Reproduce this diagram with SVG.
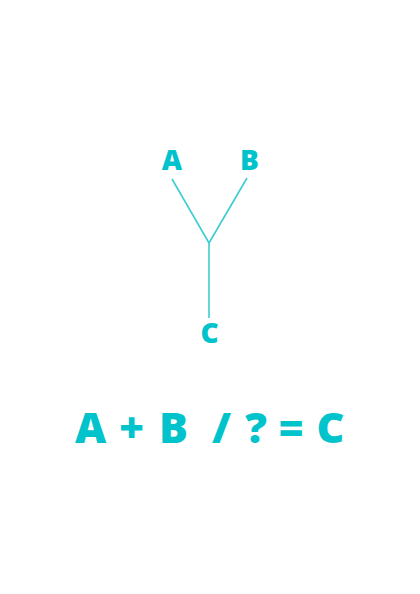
<svg xmlns="http://www.w3.org/2000/svg" width="420" height="594" viewBox="0 0 420 594">
<style>
.lbl{font-family:"Open Sans","Liberation Sans",sans-serif;font-weight:800;fill:#00c3cc;text-anchor:middle}
.sm{font-size:28px}
.big{font-size:43px}
.ln{stroke:#3ccbd2;stroke-width:1.6;fill:none}
</style>
<rect width="420" height="594" fill="#fff"/>
<g id="connectors">
<line class="ln" x1="172" y1="179" x2="209" y2="243"/>
<line class="ln" x1="247" y1="178" x2="209" y2="243"/>
<line class="ln" x1="209" y1="243" x2="209" y2="318"/>
</g>
<g id="node-A"><text class="lbl sm" x="172" y="170">A</text></g>
<g id="node-B"><text class="lbl sm" x="249.5" y="170">B</text></g>
<g id="node-C"><text class="lbl sm" x="209.5" y="343">C</text></g>
<g id="formula">
<text class="lbl big" x="90.5" y="443">A</text>
<text class="lbl big" x="131.5" y="443">+</text>
<text class="lbl big" x="173.5" y="443">B</text>
<text class="lbl big" x="221.5" y="443">/</text>
<text class="lbl big" x="256" y="443">?</text>
<text class="lbl big" x="291" y="443">=</text>
<text class="lbl big" x="330.5" y="443">C</text>
</g>
</svg>
